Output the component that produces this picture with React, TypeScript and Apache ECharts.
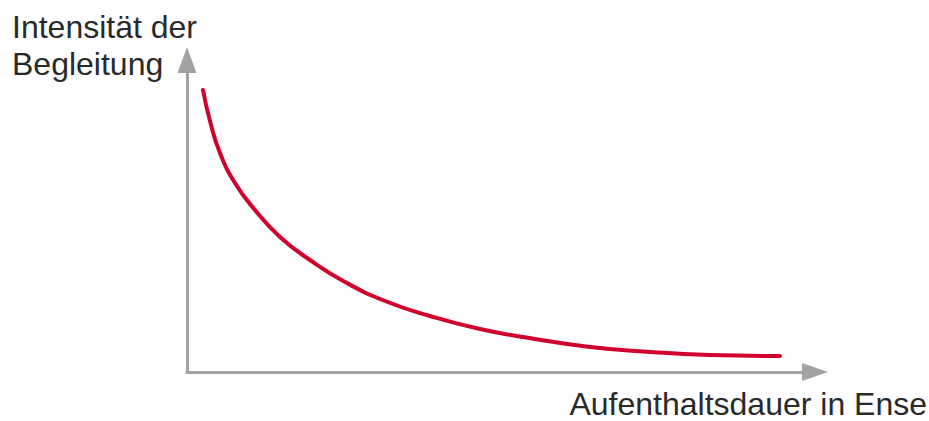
import React, { useEffect, useRef } from "react";
import * as echarts from "echarts";

// Curve (x: duration, y: intensity, in axis units)
const durationValues = [16, 23, 33, 48, 68, 93, 123, 158, 198, 243, 293, 348, 403, 463, 523, 593];
const intensityValues = [282, 251, 219, 189, 162, 135, 112, 90, 71, 56, 43, 33, 25, 20, 17, 16];

const yAxisTitleLines = ["Intensität der", "Begleitung"];
const xAxisTitle = "Aufenthaltsdauer in Ense";

const X_MAX = 628;
const Y_MAX = 312;

export default function App() {
  const ref = useRef<HTMLDivElement>(null);

  useEffect(() => {
    if (!ref.current) return;
    const chart = echarts.init(ref.current, undefined, { renderer: "svg" });
    const data = durationValues.map((x, i) => [x, intensityValues[i]]);
    const axisColor = "#a3a3a3";
    const textColor = "#2a2a2a";
    const font = "'Liberation Sans', Arial, Helvetica, sans-serif";

    chart.setOption({
      animation: false,
      backgroundColor: "#ffffff",
      grid: { left: 187, right: 114, top: 60, bottom: 49, containLabel: false },
      xAxis: {
        type: "value",
        min: 0,
        max: X_MAX,
        axisLine: {
          show: true,
          symbol: ["none", "triangle"],
          symbolSize: [18, 26],
          lineStyle: { color: axisColor, width: 3 },
        },
        axisTick: { show: false },
        axisLabel: { show: false },
        splitLine: { show: false },
      },
      yAxis: {
        type: "value",
        min: 0,
        max: Y_MAX,
        axisLine: {
          show: true,
          symbol: ["none", "triangle"],
          symbolSize: [19, 26],
          lineStyle: { color: axisColor, width: 3 },
        },
        axisTick: { show: false },
        axisLabel: { show: false },
        splitLine: { show: false },
      },
      series: [
        {
          type: "line",
          data,
          smooth: 0.5,
          showSymbol: false,
          symbol: "none",
          lineStyle: { color: "#d1002c", width: 4, cap: "round", join: "round" },
          z: 3,
        },
      ],
      graphic: [
        {
          type: "text",
          left: 12,
          top: 11,
          style: {
            text: yAxisTitleLines[0],
            font: `32px ${font}`,
            fill: textColor,
          },
        },
        {
          type: "text",
          left: 12,
          top: 48,
          style: {
            text: yAxisTitleLines[1],
            font: `32px ${font}`,
            fill: textColor,
          },
        },
        {
          type: "text",
          right: 2,
          top: 388,
          style: {
            text: xAxisTitle,
            font: `32px ${font}`,
            fill: textColor,
          },
        },
      ],
    });

    return () => chart.dispose();
  }, []);

  return (
    <div
      ref={ref}
      style={{ position: "fixed", left: 0, top: 0, width: 929, height: 421 }}
    />
  );
}
